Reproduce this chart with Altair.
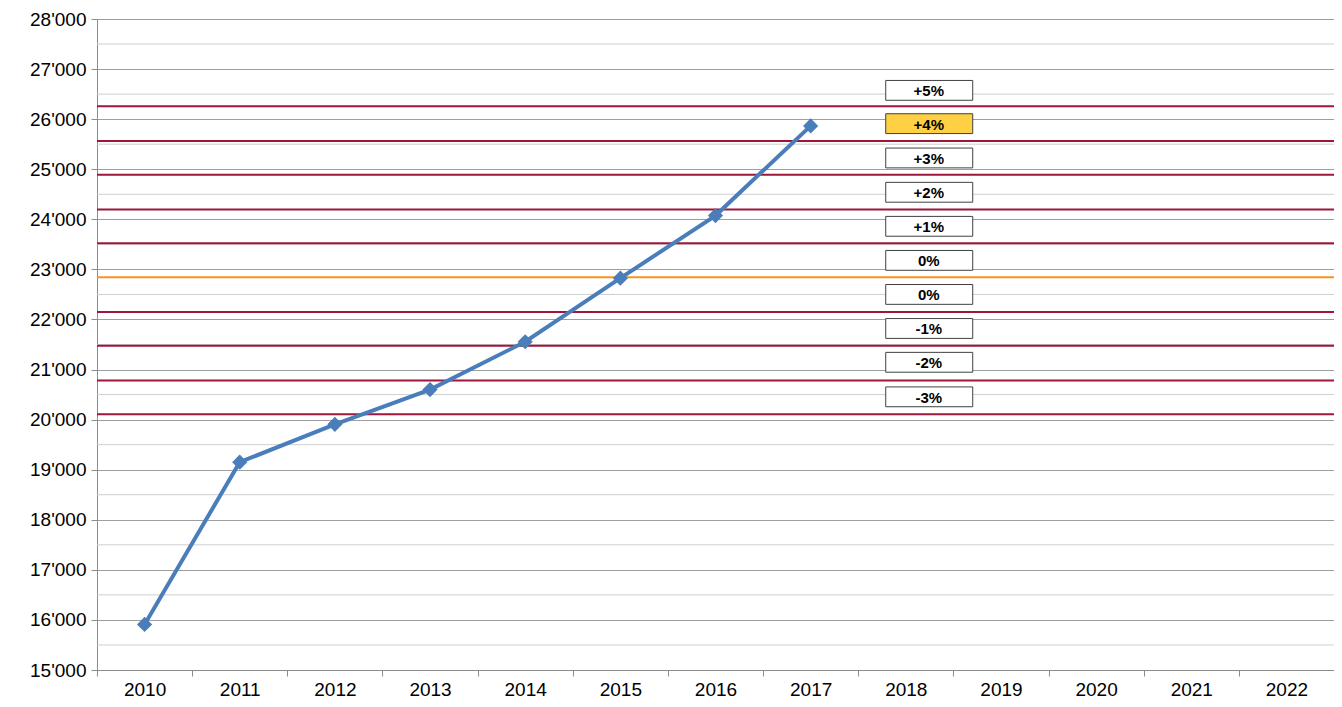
import altair as alt
import pandas as pd

years = [str(y) for y in range(2010, 2023)]
series_years = ["2010", "2011", "2012", "2013", "2014", "2015", "2016", "2017"]
series_values = [15910, 19150, 19905, 20600, 21555, 22825, 24075, 25865]

band_values = [26260, 25565, 24890, 24195, 23520, 22150, 21475, 20780, 20105]
base_value = 22845

box_labels = ["+5%", "+4%", "+3%", "+2%", "+1%", "0%", "0%", "-1%", "-2%", "-3%"]
box_centers = [26575, 25910, 25225, 24540, 23860, 23180, 22500, 21820, 21145, 20455]
box_highlight = [False, True, False, False, False, False, False, False, False, False]
box_half = 198

major_ticks = list(range(15000, 28001, 1000))
minor_ticks = list(range(15500, 28000, 1000))

FONT = "Liberation Sans"

line_df = pd.DataFrame({"year": series_years, "value": series_values})
bands_df = pd.DataFrame({"value": band_values})
base_df = pd.DataFrame({"value": [base_value]})
minor_df = pd.DataFrame({"value": minor_ticks})
box_df = pd.DataFrame({
    "year": ["2018"] * len(box_labels),
    "label": box_labels,
    "lo": [c - box_half for c in box_centers],
    "hi": [c + box_half for c in box_centers],
    "mid": box_centers,
    "hl": box_highlight,
})

x_scale = alt.Scale(domain=years, paddingInner=0, paddingOuter=0)
y_scale = alt.Scale(domain=[15000, 28000], nice=False, zero=False)

y_axis = alt.Axis(
    values=major_ticks,
    labelExpr="replace(format(datum.value, ','), ',', \"'\")",
    grid=True,
    gridColor="#9e9e9e",
    gridWidth=1,
    ticks=True,
    tickSize=6,
    tickColor="#8c8c8c",
    domainColor="#8c8c8c",
    labelFont=FONT,
    labelFontSize=19,
    labelColor="#000000",
    labelPadding=5,
    title=None,
)

x_axis = alt.Axis(
    labelAngle=0,
    tickBand="extent",
    grid=False,
    ticks=True,
    tickSize=6,
    tickColor="#8c8c8c",
    domainColor="#8c8c8c",
    labelFont=FONT,
    labelFontSize=19,
    labelColor="#000000",
    labelPadding=4,
    title=None,
)

axes_layer = alt.Chart(line_df).mark_point(opacity=0).encode(
    x=alt.X("year:O", scale=x_scale, axis=x_axis),
    y=alt.Y("value:Q", scale=y_scale, axis=y_axis),
)

minor_rules = alt.Chart(minor_df).mark_rule(color="#cfcfcf", strokeWidth=1).encode(
    y=alt.Y("value:Q", scale=y_scale)
)
red_rules = alt.Chart(bands_df).mark_rule(color="#A0153A", strokeWidth=2).encode(
    y=alt.Y("value:Q", scale=y_scale)
)
orange_rule = alt.Chart(base_df).mark_rule(color="#F7941D", strokeWidth=2).encode(
    y=alt.Y("value:Q", scale=y_scale)
)

line = alt.Chart(line_df).mark_line(color="#4A7EBB", strokeWidth=4).encode(
    x=alt.X("year:O", scale=x_scale),
    y=alt.Y("value:Q", scale=y_scale),
)
points = alt.Chart(line_df).mark_point(
    shape="diamond", filled=True, color="#4A7EBB", size=230, opacity=1
).encode(
    x=alt.X("year:O", scale=x_scale),
    y=alt.Y("value:Q", scale=y_scale),
)

boxes = alt.Chart(box_df).mark_rect(
    width=87, stroke="#404040", strokeWidth=1
).encode(
    x=alt.X("year:O", scale=x_scale),
    xOffset=alt.value(71),
    y=alt.Y("lo:Q", scale=y_scale),
    y2="hi:Q",
    fill=alt.condition("datum.hl", alt.value("#FFD043"), alt.value("#FFFFFF")),
)
box_text = alt.Chart(box_df).mark_text(
    font=FONT, fontSize=15, fontWeight="bold", color="#000000", dx=23, dy=1
).encode(
    x=alt.X("year:O", scale=x_scale),
    y=alt.Y("mid:Q", scale=y_scale),
    text="label:N",
)

chart = alt.layer(
    minor_rules, axes_layer, red_rules, orange_rule, line, points, boxes, box_text
).properties(
    width=1237,
    height=651,
    padding={"left": 89, "top": 11, "right": 0, "bottom": 29},
    autosize=alt.AutoSizeParams(type="none"),
).configure_view(stroke=None).configure(background="white")

chart.save("out.html", embed_options={"renderer": "svg", "actions": False})
